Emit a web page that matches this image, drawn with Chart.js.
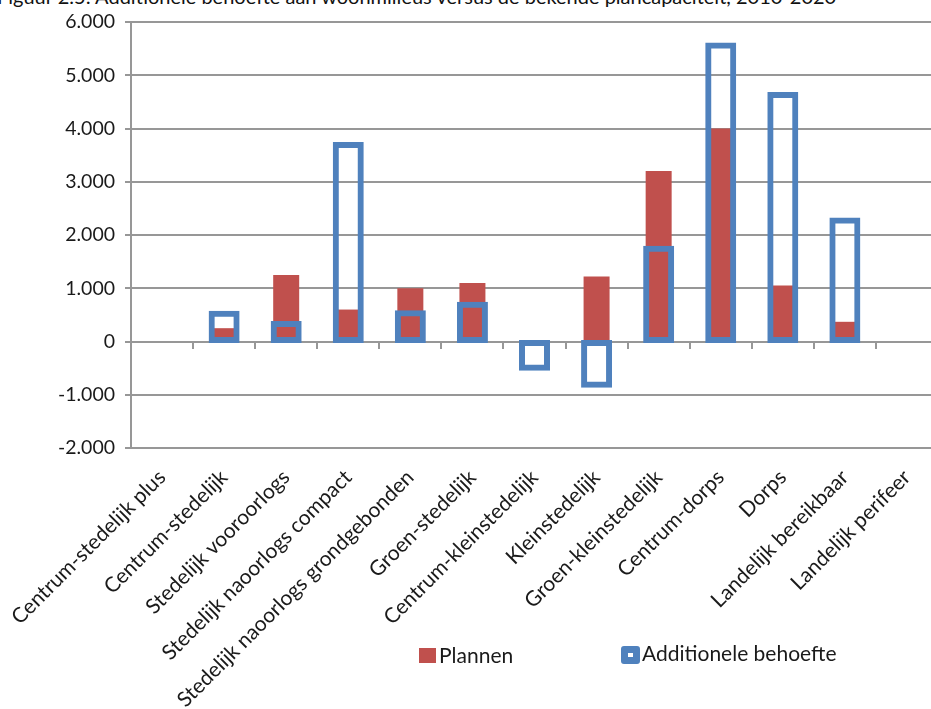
<!DOCTYPE html>
<html>
<head>
<meta charset="utf-8">
<script src="https://cdn.jsdelivr.net/npm/chart.js"></script>
<style>
  html, body { margin: 0; padding: 0; background: #fff; overflow: hidden; width: 931px; height: 709px; }
  #wrap { position: absolute; left: 0; top: 0; width: 945px; height: 709px; }
  #title { position: absolute; left: -3px; top: -15px; white-space: nowrap; font: 20px Lato, sans-serif; line-height: 22px; color: #111; }
  .lg { position: absolute; font: 21px Lato, sans-serif; color: #1a1a1a; line-height: 22px; white-space: nowrap; }
  .lg-box { position: absolute; }
</style>
</head>
<body>
<div id="title">Figuur 2.5: Additionele behoefte aan woonmilieus versus de bekende plancapaciteit, 2010-2020</div>
<div id="wrap"><canvas id="chart" width="945" height="709"></canvas></div>
<div id="legend"></div>
<script>
const categories = [
    'Centrum-stedelijk plus', 'Centrum-stedelijk', 'Stedelijk vooroorlogs',
    'Stedelijk naoorlogs compact', 'Stedelijk naoorlogs grondgebonden', 'Groen-stedelijk',
    'Centrum-kleinstedelijk', 'Kleinstedelijk', 'Groen-kleinstedelijk',
    'Centrum-dorps', 'Dorps', 'Landelijk bereikbaar', 'Landelijk perifeer'
];
const plannen = [0, 250, 1250, 600, 1000, 1100, 0, 1220, 3200, 4000, 1050, 370, 0];
const behoefte = [null, 530, 340, 3700, 540, 700, -500, -820, 1750, 5570, 4640, 2280, null];
const yTicks = [-2000, -1000, 0, 1000, 2000, 3000, 4000, 5000, 6000];

const gridGray = '#979797';
const textColor = '#1a1a1a';

function formatNl(v) {
    const s = String(Math.abs(v)).replace(/\B(?=(\d{3})+(?!\d))/g, '.');
    return (v < 0 ? '-' : '') + s;
}

const chart = new Chart(document.getElementById('chart'), {
    type: 'bar',
    data: {
        labels: categories,
        datasets: [
            {
                label: 'Plannen',
                data: plannen,
                backgroundColor: '#C0504D',
                barThickness: 26,
                inflateAmount: 0,
                grouped: false,
                order: 1
            },
            {
                label: 'Additionele behoefte',
                data: behoefte,
                backgroundColor: 'rgba(0,0,0,0)',
                borderColor: '#4F81BD',
                borderWidth: 1,
                inflateAmount: 2.5,
                borderSkipped: false,
                barThickness: 26,
                grouped: false,
                order: 0
            }
        ]
    },
    options: {
        responsive: false,
        animation: false,
        events: [],
        layout: { padding: { top: 22, right: 7, left: 0, bottom: 0 } },
        scales: {
            x: {
                position: 'bottom',
                grid: { display: false, drawTicks: false },
                border: { display: false },
                ticks: {
                    autoSkip: false,
                    minRotation: 45,
                    maxRotation: 45,
                    padding: 17,
                    color: textColor,
                    font: { family: 'Lato', size: 21 }
                },
                afterFit: function (scale) {
                    scale.height = 261;
                    scale.paddingLeft = 0;
                    scale.paddingRight = 0;
                }
            },
            x0: {
                type: 'category',
                position: { y: 0 },
                offset: true,
                grid: { offset: true, drawOnChartArea: false, drawTicks: true, tickLength: 6, color: gridGray, lineWidth: 2 },
                border: { display: true, color: gridGray, width: 2 },
                ticks: { display: false }
            },
            y: {
                min: -2000,
                max: 6000,
                afterBuildTicks: function (scale) {
                    scale.ticks = yTicks.map(v => ({ value: v }));
                },
                grid: { color: gridGray, lineWidth: 2, drawTicks: true, tickLength: 6 },
                border: { display: true, color: gridGray, width: 2 },
                ticks: {
                    padding: 10,
                    color: textColor,
                    font: { family: 'Lato', size: 19.5 },
                    callback: function (value) { return formatNl(value); }
                },
                afterFit: function (scale) { scale.width = 131; }
            }
        },
        plugins: {
            legend: { display: false },
            tooltip: { enabled: false }
        }
    }
});

// html legend from the dataset labels and colours
const legendPos = [
    { box: [419, 648, 17, 15], text: 439 },
    { box: [621, 646, 19, 18], text: 642 }
];
const legendEl = document.getElementById('legend');
chart.data.datasets.forEach(function (ds, i) {
    const p = legendPos[i];
    const box = document.createElement('div');
    box.className = 'lg-box';
    box.style.left = p.box[0] + 'px';
    box.style.top = p.box[1] + 'px';
    box.style.width = p.box[2] + 'px';
    box.style.height = p.box[3] + 'px';
    if (ds.borderColor) {
        box.style.boxSizing = 'border-box';
        box.style.border = '7px solid ' + ds.borderColor;
        box.style.borderRadius = '3px';
        box.style.background = '#fff';
    } else {
        box.style.background = ds.backgroundColor;
    }
    legendEl.appendChild(box);
    const txt = document.createElement('div');
    txt.className = 'lg';
    txt.style.left = p.text + 'px';
    txt.style.top = (p.box[1] - 4) + 'px';
    txt.textContent = ds.label;
    legendEl.appendChild(txt);
});
</script>
</body>
</html>
